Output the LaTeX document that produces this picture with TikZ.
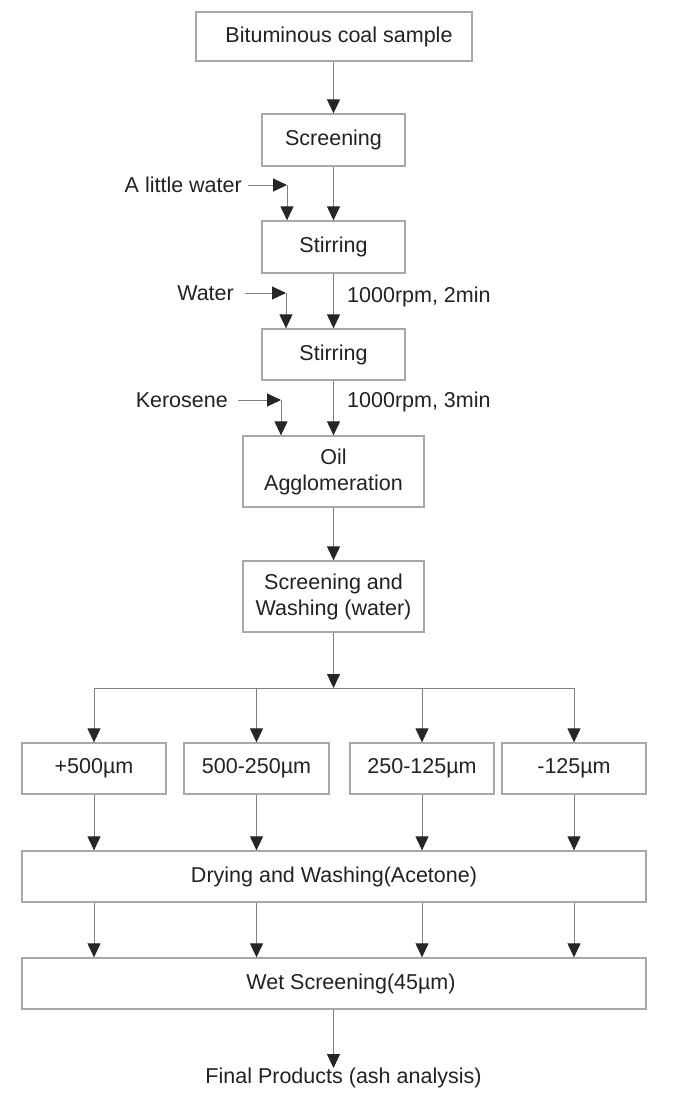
\documentclass[tikz,border=0pt]{standalone}
\usepackage{fontspec}
\setmainfont{Liberation Sans}
\usetikzlibrary{arrows.meta}
\definecolor{boxline}{HTML}{A8A8A8}
\definecolor{conline}{HTML}{808080}
\definecolor{tipcol}{HTML}{262626}
\definecolor{txt}{HTML}{222222}
\tikzset{
  procbox/.style={draw=boxline, line width=1.3pt, inner sep=0pt, align=center,
    text=txt, font=\fontsize{21.5}{26}\selectfont},
  plain/.style={inner sep=0pt, text=txt, font=\fontsize{21.5}{26}\selectfont},
  flow/.style={draw=conline, line width=1pt,
    -{Triangle[length=14pt,width=13pt,color=tipcol]}},
  wire/.style={draw=conline, line width=1pt}
}
\begin{document}
\begin{tikzpicture}[x=1pt,y=-1pt]
\fill[white] (0,0) rectangle (675,1098);
\useasboundingbox (0,0) rectangle (675,1098);

% main boxes
\node[procbox, minimum width=276pt, minimum height=49pt] (coal) at (334,36.5) {\hspace*{10pt}Bituminous coal sample};
\node[procbox, minimum width=143pt, minimum height=52pt] (scr) at (333.5,140) {Screening};
\node[procbox, minimum width=143pt, minimum height=52pt] (st1) at (333.5,247) {Stirring};
\node[procbox, minimum width=143pt, minimum height=51pt] (st2) at (333.5,354.5) {Stirring};
\node[procbox, minimum width=181pt, minimum height=71pt] (oil) at (333.5,471.5) {Oil\\Agglomeration};
\node[procbox, minimum width=181pt, minimum height=71pt] (sw) at (333.5,596.5) {Screening and\\Washing (water)};

\coordinate (junc) at (333.5,688);

\node[procbox, minimum width=144pt, minimum height=51pt] (b1) at (94,768.5) {+500µm};
\node[procbox, minimum width=145pt, minimum height=51pt] (b2) at (256.5,768.5) {500-250µm};
\node[procbox, minimum width=144pt, minimum height=51pt] (b3) at (422,768.5) {250-125µm};
\node[procbox, minimum width=144pt, minimum height=51pt] (b4) at (574,768.5) {-125µm};

\node[procbox, minimum width=624pt, minimum height=51pt] (dry) at (334,876.5) {Drying and Washing(Acetone)};
\node[procbox, minimum width=624pt, minimum height=51pt] (wet) at (334,983.5) {\hspace*{34pt}Wet Screening(45µm)};

\node[plain, anchor=north] (final) at (343.5,1068) {Final Products (ash analysis)};

% side labels
\node[plain, anchor=east] (lw) at (242,185) {A little water};
\node[plain, anchor=east] (wa) at (234,293) {Water};
\node[plain, anchor=east] (ke) at (228,400) {Kerosene};
\node[plain, anchor=west] (r1) at (347,297) {1000rpm, 2min};
\node[plain, anchor=west] (r2) at (347,402) {1000rpm, 3min};

\coordinate (c1) at (287,185);
\coordinate (c2) at (286,293);
\coordinate (c3) at (281,400);

% main flow
\draw[flow] (coal.south -| scr.north) -- (scr.north);
\draw[flow] (scr) -- (st1);
\draw[flow] (st1) -- (st2);
\draw[flow] (st2) -- (oil.north -| st2.south);
\draw[flow] (oil) -- (sw);
\draw[flow] (sw.south) -- (junc);
\draw[wire] (junc -| b1) -- (junc -| b4);
\foreach \b in {b1,b2,b3,b4}{
  \draw[flow] (junc -| \b) -- (\b.north);
  \draw[flow] (\b.south) -- (dry.north -| \b);
  \draw[flow] (dry.south -| \b) -- (wet.north -| \b);
}
\draw[flow] (wet.south -| junc) -- (final.north -| junc);

% side inputs
\draw[flow] ([xshift=6pt]lw.east) -- (c1);
\draw[flow] (c1) -- (st1.north -| c1);
\draw[flow] ([xshift=11pt]wa.east) -- (c2);
\draw[flow] (c2) -- (st2.north -| c2);
\draw[flow] ([xshift=10pt]ke.east) -- (c3);
\draw[flow] (c3) -- (oil.north -| c3);
\end{tikzpicture}
\end{document}
